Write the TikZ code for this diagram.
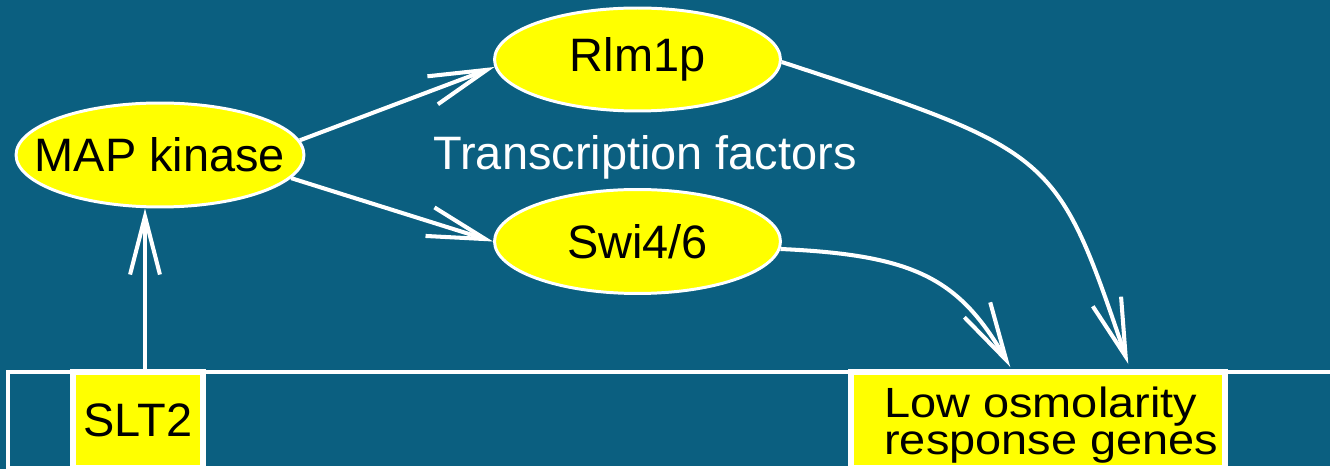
\documentclass[tikz,border=0pt]{standalone}
\usepackage{fontspec}
\setmainfont{Liberation Sans}
\usetikzlibrary{arrows.meta,shapes.geometric}
\definecolor{panelblue}{RGB}{11,95,128}
\definecolor{markyellow}{RGB}{255,255,0}
% keep the label from widening the ellipse; its size comes from the style
\newcommand\slimlabel[1]{\makebox[0pt]{#1}}

\begin{document}
\begin{tikzpicture}[x=0.02cm,y=-0.02cm,
  every node/.style={font=\fontsize{26.7}{21}\selectfont},
  factor/.style={ellipse, draw=white, line width=1.7pt, fill=markyellow,
    inner sep=0pt, text=black},
  locus/.style={rectangle, draw=white, line width=3.4pt, fill=markyellow,
    inner sep=0pt, text=black},
  link/.style={draw=white, line width=2.3pt,
    -{Straight Barb[length=33pt,width=17pt]}},
]
% background and chromosome strip
\fill[panelblue] (0,0) rectangle (1330,469);
\useasboundingbox (0,0) rectangle (1330,469);
\draw[white, line width=2.6pt] (8,372) rectangle (1345,468);

% gene loci on the strip
\node[locus, minimum width=2.6cm, minimum height=1.92cm] (slt2) at (138,420) {SLT2};
\node[locus, minimum width=7.49cm, minimum height=1.92cm] (genes) at (1038.25,420) {};
\node[anchor=west, inner sep=0pt, text=black, font=\fontsize{26.7}{23.4}\selectfont]
  (genestext) at (884,426)
  {\scalebox{1}[0.9]{\begin{tabular}{@{}l@{}}Low osmolarity\\response genes\end{tabular}}};

% kinase and transcription factors
\node[factor, minimum width=5.76cm, minimum height=2.08cm] (map) at (160,155) {\slimlabel{MAP kinase}};
\node[factor, minimum width=5.72cm, minimum height=2.06cm] (rlm) at (637.5,59.5) {\slimlabel{Rlm1p}};
\node[factor, minimum width=5.72cm, minimum height=2.08cm] (swi) at (637.5,241.5) {\slimlabel{Swi4/6}};
\node[text=white, anchor=base, inner sep=0pt] (tf) at (645,170) {Transcription factors};

% signalling connections
\coordinate (stem) at ([xshift=0.14cm]slt2.north);
\draw[link] (stem) -- (stem |- map.south);
\draw[link] (map.6) -- (rlm.183);
\draw[link] (map.-10) -- (swi.west);
\draw[link] (rlm.-1) .. controls (1056,152) .. ([shift={(90,-5)}]genes.north);
\draw[link] (swi.-3) .. controls (914,255) and (959,278) .. ([shift={(-28,-2)}]genes.north);
\end{tikzpicture}
\end{document}
